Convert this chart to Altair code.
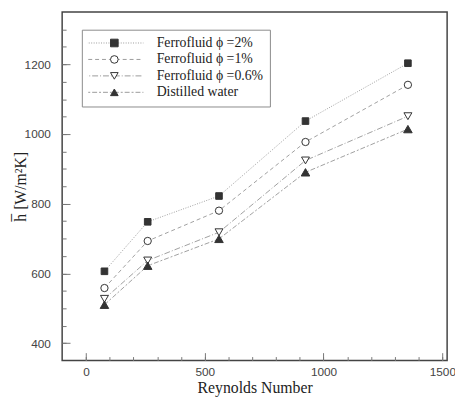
import altair as alt
import pandas as pd

reynolds = [78, 260, 560, 924, 1355]
series_names = ["Ferrofluid \u03d5 =2%", "Ferrofluid \u03d5 =1%", "Ferrofluid \u03d5 =0.6%", "Distilled water"]
marker_keys = ["m2", "m1", "m06", "mw"]
size_keys = ["s2", "s1", "s06", "sw"]
h_2pct = [606, 748, 822, 1037, 1203]
h_1pct = [558, 693, 780, 977, 1141]
h_06pct = [527, 637, 718, 924, 1051]
h_water = [510, 622, 699, 890, 1014]

x_major = [0, 500, 1000, 1500]
x_minor = list(range(0, 1501, 100))
y_major = [400, 600, 800, 1000, 1200]
y_minor = list(range(400, 1301, 50))

rows = []
for name, mk, sk, vals in zip(series_names, marker_keys, size_keys, [h_2pct, h_1pct, h_06pct, h_water]):
    for r, v in zip(reynolds, vals):
        rows.append({"Re": r, "h": v, "series": name, "marker": mk, "sz": sk})
df = pd.DataFrame(rows)

x_domain = [-100, 1520]
y_domain = [350, 1350]

dashes = [[1, 1.5], [4, 3], [6, 2, 1, 2], [5, 2, 2, 2]]
shapes = ["square", "circle", "triangle-down", "triangle-up"]
fills = ["#333333", "white", "white", "#333333"]
strokes = ["#333333", "#333333", "#333333", "#333333"]
sizes = [45, 75, 70, 70]

leg_lines = alt.Legend(
    title=None, orient="none", legendX=20, legendY=18, padding=6,
    strokeColor="#8a8a8a",
    symbolType="stroke", symbolSize=3969, symbolStrokeColor="#9a9a9a",
    symbolStrokeWidth=1, symbolOffset=-7, labelOffset=13,
    labelFont="Liberation Serif", labelFontSize=14, labelColor="#222222",
    clipHeight=15, rowPadding=1.7, zindex=1,
)
leg_marks = alt.Legend(
    title=None, orient="none", legendX=20, legendY=18, padding=6,
    symbolSize=60, symbolStrokeColor="#333333",
    symbolStrokeWidth=1, symbolOffset=22, labelExpr="''",
    clipHeight=15, rowPadding=1.7, zindex=2,
)

base = alt.Chart(df)

lines = base.mark_line(color="#a0a0a0", strokeWidth=1).encode(
    x=alt.X("Re:Q", scale=alt.Scale(domain=x_domain, nice=False, zero=False), axis=alt.Axis(
        values=x_major, tickSize=8, offset=-8, orient="bottom", format="d",
        labelFlush=False, title="Reynolds Number", labelPadding=6, titlePadding=2)),
    y=alt.Y("h:Q", scale=alt.Scale(domain=y_domain, nice=False, zero=False), axis=alt.Axis(
        values=y_major, tickSize=8, offset=-8, orient="left", format="d",
        labelFlush=False, title="h\u0305 [W/m\u00b2K]", labelPadding=12, titlePadding=-4)),
    strokeDash=alt.StrokeDash("series:N", scale=alt.Scale(domain=series_names, range=dashes), legend=leg_lines),
)

points = base.mark_point(filled=False, strokeWidth=1, opacity=1).encode(
    x=alt.X("Re:Q", scale=alt.Scale(domain=x_domain, nice=False, zero=False), axis=alt.Axis(
        values=x_minor, tickSize=4, offset=-4, orient="bottom", labels=False, title=None)),
    y=alt.Y("h:Q", scale=alt.Scale(domain=y_domain, nice=False, zero=False), axis=alt.Axis(
        values=y_minor, tickSize=4, offset=-4, orient="left", labels=False, title=None)),
    shape=alt.Shape("marker:N", scale=alt.Scale(domain=marker_keys, range=shapes), legend=leg_marks),
    fill=alt.Fill("marker:N", scale=alt.Scale(domain=marker_keys, range=fills), legend=leg_marks),
    stroke=alt.Stroke("marker:N", scale=alt.Scale(domain=marker_keys, range=strokes), legend=leg_marks),
    size=alt.Size("sz:N", scale=alt.Scale(domain=size_keys, range=sizes), legend=None),
)

chart = alt.layer(lines, points).resolve_scale(x="independent", y="independent").properties(
    width=391, height=354,
    padding={"left": 55, "top": 1, "right": 8, "bottom": 34},
    autosize=alt.AutoSizeParams(type="none"),
    background="white",
).configure_view(stroke="#444444", strokeWidth=1.5).configure_axis(
    grid=False, domain=False,
    labelFont="Liberation Sans", labelFontSize=12, labelColor="#444444",
    tickColor="#777777", tickWidth=1,
    titleFont="Liberation Serif", titleFontSize=16, titleFontWeight="normal", titleColor="#222222",
)

chart.save("out.html", embed_options={"renderer": "svg", "actions": False})
